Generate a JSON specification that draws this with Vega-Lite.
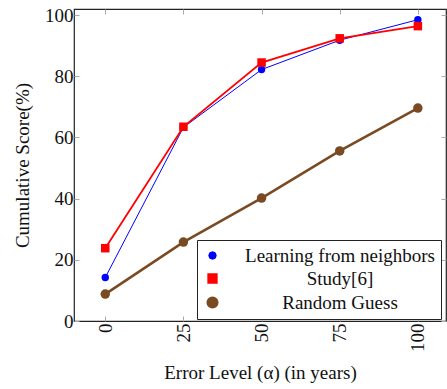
{
  "$schema": "https://vega.github.io/schema/vega-lite/v6.json",
  "width": 372,
  "height": 312,
  "autosize": {"type": "none"},
  "padding": {"left": 74, "top": 9, "right": 1, "bottom": 68},
  "background": "white",
  "config": {
    "font": "Liberation Serif",
    "view": {"stroke": "#222", "strokeWidth": 1.2},
    "axis": {
      "grid": false,
      "domain": false,
      "tickColor": "#aaa",
      "tickSize": -5,
      "labelFont": "Liberation Serif",
      "labelFontSize": 19,
      "labelColor": "#111",
      "titleFont": "Liberation Serif",
      "titleFontSize": 19,
      "titleFontWeight": "normal",
      "titleColor": "#111"
    },
    "legend": {
      "labelFont": "Liberation Serif",
      "labelFontSize": 19,
      "labelColor": "#111"
    }
  },
  "data": {
    "values": [
      {"method": "Learning from neighbors", "alpha": 0, "score": 14.2},
      {"method": "Learning from neighbors", "alpha": 25, "score": 63.3},
      {"method": "Learning from neighbors", "alpha": 50, "score": 82.2},
      {"method": "Learning from neighbors", "alpha": 75, "score": 91.8},
      {"method": "Learning from neighbors", "alpha": 100, "score": 98.5},
      {"method": "Study[6]", "alpha": 0, "score": 23.8},
      {"method": "Study[6]", "alpha": 25, "score": 63.5},
      {"method": "Study[6]", "alpha": 50, "score": 84.5},
      {"method": "Study[6]", "alpha": 75, "score": 92.4},
      {"method": "Study[6]", "alpha": 100, "score": 96.4},
      {"method": "Random Guess", "alpha": 0, "score": 8.8},
      {"method": "Random Guess", "alpha": 25, "score": 25.8},
      {"method": "Random Guess", "alpha": 50, "score": 40.2},
      {"method": "Random Guess", "alpha": 75, "score": 55.6},
      {"method": "Random Guess", "alpha": 100, "score": 69.6}
    ]
  },
  "layer": [
    {
      "mark": {"type": "line"},
      "encoding": {
        "x": {
          "field": "alpha",
          "type": "quantitative",
          "scale": {"domain": [-10, 109], "nice": false, "zero": false},
          "axis": {
            "values": [0, 25, 50, 75, 100],
            "labelAngle": 270,
            "labelAlign": "right",
            "labelBaseline": "middle",
            "labelPadding": 7,
            "title": "Error Level (α) (in years)",
            "titlePadding": 12
          }
        },
        "y": {
          "field": "score",
          "type": "quantitative",
          "scale": {"domain": [0, 102], "nice": false},
          "axis": {
            "values": [0, 20, 40, 60, 80, 100],
            "labelPadding": 6,
            "title": "Cumulative Score(%)",
            "titlePadding": 12
          }
        },
        "color": {
          "field": "method",
          "type": "nominal",
          "scale": {
            "domain": ["Learning from neighbors", "Study[6]", "Random Guess"],
            "range": ["#0000ff", "#ff0000", "#7a4a22"]
          },
          "legend": {
            "title": null,
            "orient": "none",
            "legendX": 123,
            "legendY": 231,
            "fillColor": "white",
            "strokeColor": "#222",
            "padding": 6,
            "rowPadding": 3,
            "labelAlign": "center",
            "labelOffset": 118,
            "labelLimit": 300
          }
        },
        "strokeWidth": {
          "field": "method",
          "type": "nominal",
          "scale": {
            "domain": ["Learning from neighbors", "Study[6]", "Random Guess"],
            "range": [1, 2.6, 2.2]
          },
          "legend": null
        }
      }
    },
    {
      "mark": {"type": "point", "filled": true, "opacity": 1},
      "encoding": {
        "x": {
          "field": "alpha",
          "type": "quantitative",
          "axis": {
            "orient": "top",
            "values": [0, 25, 50, 75, 100],
            "labels": false,
            "title": null
          }
        },
        "y": {
          "field": "score",
          "type": "quantitative",
          "axis": {
            "orient": "right",
            "values": [0, 20, 40, 60, 80, 100],
            "labels": false,
            "title": null
          }
        },
        "color": {"field": "method", "type": "nominal", "legend": null},
        "shape": {
          "field": "method",
          "type": "nominal",
          "scale": {
            "domain": ["Learning from neighbors", "Study[6]", "Random Guess"],
            "range": ["circle", "square", "circle"]
          },
          "legend": null
        },
        "size": {
          "field": "method",
          "type": "nominal",
          "scale": {
            "domain": ["Learning from neighbors", "Study[6]", "Random Guess"],
            "range": [55, 90, 65]
          },
          "legend": null
        }
      }
    }
  ],
  "resolve": {"axis": {"x": "independent", "y": "independent"}}
}
